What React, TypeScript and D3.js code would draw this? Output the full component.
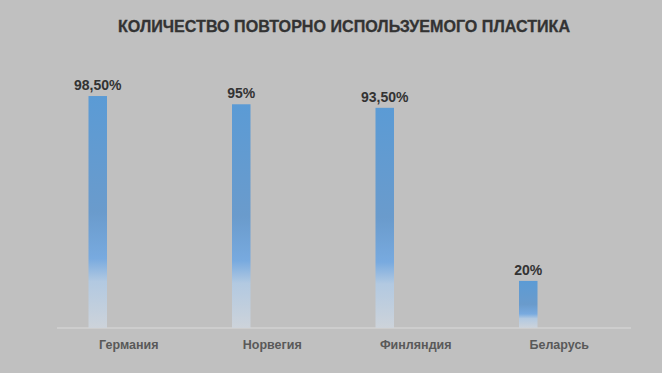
import React from "react";
import * as d3 from "d3";

const categories = ["Германия", "Норвегия", "Финляндия", "Беларусь"];
const values = [98.5, 95, 93.5, 20];
const valueLabels = ["98,50%", "95%", "93,50%", "20%"];
const title = "КОЛИЧЕСТВО ПОВТОРНО ИСПОЛЬЗУЕМОГО ПЛАСТИКА";

const W = 662;
const H = 373;
const FONT = "'Liberation Sans', Arial, sans-serif";

export default function App() {
  const x = d3.scaleBand<string>().domain(categories).range([57, 631]).padding(0);
  const y = d3.scaleLinear().domain([0, 100]).range([328, 92.5]);
  const barW = 18.5;
  const barOffset = -31;

  return (
    <svg
      width={W}
      height={H}
      style={{ position: "absolute", left: 0, top: 0, display: "block" }}
    >
      <defs>
        <linearGradient id="barGrad" x1="0" y1="0" x2="0" y2="1">
          <stop offset="0" stopColor="#5B9BD5" />
          <stop offset="0.5" stopColor="#6A9BCC" />
          <stop offset="0.7" stopColor="#78AADF" />
          <stop offset="0.8" stopColor="#B2C9E1" />
          <stop offset="1" stopColor="#CDD3DA" />
        </linearGradient>
      </defs>
      <rect x={0} y={0} width={W} height={H} fill="#C0C0C0" />
      <text
        x={344}
        y={32}
        textAnchor="middle"
        fontFamily={FONT}
        fontWeight="bold"
        fontSize={16.1}
        fill="#333333"
        stroke="#333333"
        strokeWidth={0.3}
      >
        {title}
      </text>
      <line x1={57} x2={631} y1={328} y2={328} stroke="#D9D9D9" strokeWidth={1.2} />
      {categories.map((c, i) => {
        const cx = (x(c) as number) + x.bandwidth() / 2;
        const bx = cx + barOffset - barW / 2;
        const top = y(values[i]);
        return (
          <g key={c}>
            <rect x={bx} y={top} width={barW} height={y(0) - top} fill="url(#barGrad)" />
            <text
              x={cx + barOffset}
              y={top - 6}
              textAnchor="middle"
              fontFamily={FONT}
              fontWeight="bold"
              fontSize={14}
              fill="#333333"
            >
              {valueLabels[i]}
            </text>
            <text
              x={cx}
              y={348.5}
              textAnchor="middle"
              fontFamily={FONT}
              fontWeight="bold"
              fontSize={12.5}
              fill="#595959"
            >
              {c}
            </text>
          </g>
        );
      })}
    </svg>
  );
}
